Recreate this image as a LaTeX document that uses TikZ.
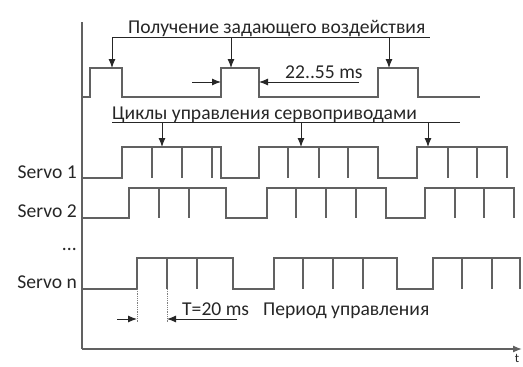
\documentclass[tikz,border=0pt]{standalone}
\usepackage{fontspec}
\setmainfont{Carlito}
\usetikzlibrary{arrows.meta,positioning}

\begin{document}
\begin{tikzpicture}[x=1pt,y=-1pt,
                    sig/.style={line width=1.3pt, draw=black!62},
                    lbl/.style={font=\fontsize{19.6}{21}\selectfont, text=black!85, inner sep=0pt},
                    ptr/.style={line width=1pt, draw=black!85, -{Latex[length=9pt,width=7pt]}},
                    guide/.style={line width=1pt, draw=black!85}]

  \useasboundingbox (0,0) rectangle (523,367);

  % axes
  \coordinate (origin) at (82,349);
  \coordinate (ytop)   at (82,22);
  \coordinate (xend)   at (522,349);
  \draw[sig] (ytop) -- (origin);
  \draw[sig, -{Latex[length=9pt,width=7pt]}] (origin) -- (xend);
  \node[lbl, font=\fontsize{13}{14}\selectfont, anchor=base] (t) at (517,362) {t};

  % setpoint pulses
  \draw[sig] (82,97) -- (90,97) -- (90,68) -- (122,68) -- (122,97)
             -- (221,97) -- (221,68) -- (259,68) -- (259,97)
             -- (378,97) -- (378,68) -- (418,68) -- (418,97) -- (480,97);

  \node[lbl, anchor=base west] (recv) at (128,33) {Получение задающего воздействия};
  \coordinate (recvL) at (112,37);
  \coordinate (recvR) at (430,37);
  \draw[guide] (recvL) -- (recvR);
  \coordinate (p1) at (112,68);
  \coordinate (p2) at (231,68);
  \coordinate (p3) at (389,68);
  \draw[ptr] (recvL) -- (p1);
  \draw[ptr] (recvL -| p2) -- (p2);
  \draw[ptr] (recvL -| p3) -- (p3);

  % 22..55 ms
  \node[lbl, anchor=base west] (dur) at (285,78) {22..55 ms};
  \coordinate (durA) at (192,82);
  \coordinate (durB) at (221,82);
  \coordinate (durC) at (359,82);
  \coordinate (durD) at (259,82);
  \draw[ptr] (durA) -- (durB);
  \draw[ptr] (durC) -- (durD);

  % servo cycles
  \node[lbl, anchor=base west] (cycles) at (112,119) {Циклы управления сервоприводами};
  \coordinate (cycL) at (112,122);
  \coordinate (cycR) at (460,122);
  \draw[guide] (cycL) -- (cycR);
  \foreach \x/\n in {162/1,301/2,428/3}
    \draw[ptr] (\x,122) -- (\x,147);

  % Servo 1
  \node[lbl, anchor=base east] (s1) at (77,178) {Servo 1};
  \draw[sig] (82,178) -- (122,178) -- (122,147) -- (221,147) -- (221,178)
             -- (259,178) -- (259,147) -- (378,147) -- (378,178)
             -- (417,178) -- (417,147) -- (507,147) -- (507,178);
  \foreach \x in {152,182,212,288,319,348,448,477}
    \draw[sig] (\x,147) -- (\x,178);

  % Servo 2
  \node[lbl, anchor=base east] (s2) at (77,217) {Servo 2};
  \draw[sig] (82,218) -- (129,218) -- (129,188) -- (226,188) -- (226,218)
             -- (267,218) -- (267,188) -- (386,188) -- (386,218)
             -- (425,218) -- (425,188) -- (514,188) -- (514,218);
  \foreach \x in {159,189,296,326,356,455,484}
    \draw[sig] (\x,188) -- (\x,218);

  \node[lbl, anchor=base east] (dots) at (77,250) {...};

  % Servo n
  \node[lbl, anchor=base east] (sn) at (77,288) {Servo n};
  \draw[sig] (82,289) -- (137,289) -- (137,258) -- (233,258) -- (233,289)
             -- (274,289) -- (274,258) -- (397,258) -- (397,289)
             -- (433,289) -- (433,258) -- (520,258) -- (520,289);
  \foreach \x in {167,197,303,333,363,462,492}
    \draw[sig] (\x,258) -- (\x,289);

  % period
  \coordinate (rise) at (137,289);
  \coordinate (tick) at (167,289);
  \draw[densely dotted, line width=0.8pt, black!50] (rise) -- ++(0,33);
  \draw[densely dotted, line width=0.8pt, black!50] (tick) -- ++(0,33);
  \coordinate (perA) at (117,319);
  \coordinate (perB) at (137,319);
  \coordinate (perC) at (237,319);
  \coordinate (perD) at (167,319);
  \draw[ptr] (perA) -- (perB);
  \draw[ptr] (perC) -- (perD);
  \node[lbl, anchor=base west] (tper) at (182,315) {T=20 ms};
  \node[lbl, anchor=base west] (period) at (263,315) {Период управления};

\end{tikzpicture}
\end{document}
